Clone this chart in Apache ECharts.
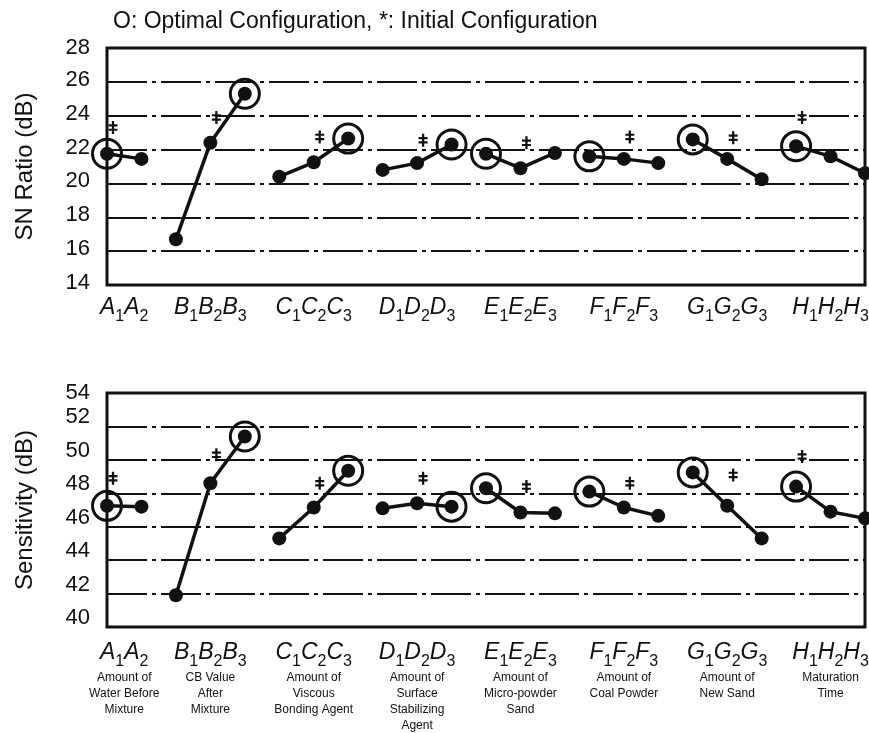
<!DOCTYPE html>
<html>
<head>
<meta charset="utf-8">
<script src="https://cdn.jsdelivr.net/npm/echarts@6/dist/echarts.min.js"></script>
<style>html,body{margin:0;padding:0;background:#fff}#c{width:869px;height:733px}</style>
</head>
<body>
<div id="c"></div>
<script>
// ---- data ----
const factors = ['A', 'B', 'C', 'D', 'E', 'F', 'G', 'H'];
const levelsPerFactor = [2, 3, 3, 3, 3, 3, 3, 3];
const snRatio = [21.75, 21.45, 16.7, 22.4, 25.3, 20.4, 21.25, 22.65, 20.8, 21.2, 22.3, 21.75, 20.9, 21.8, 21.6, 21.45, 21.2, 22.6, 21.45, 20.25, 22.2, 21.6, 20.6];
const sensitivity = [47.25, 47.2, 41.9, 48.6, 51.4, 45.3, 47.15, 49.35, 47.1, 47.4, 47.2, 48.3, 46.85, 46.8, 48.1, 47.15, 46.65, 49.25, 47.25, 45.3, 48.4, 46.9, 46.5];
const optimalLevel = [1, 3, 3, 3, 1, 1, 1, 1];
const initialLevel = [1, 2, 2, 2, 2, 2, 2, 1];
const snInitialMark = [23.3, 23.9, 22.75, 22.55, 22.4, 22.75, 22.7, 23.9];
const sensInitialMark = [48.9, 50.3, 48.6, 48.9, 48.4, 48.6, 49.1, 50.2];
const factorDescriptions = [
  ['Amount of', 'Water Before', 'Mixture'],
  ['CB Value', 'After', 'Mixture'],
  ['Amount of', 'Viscous', 'Bonding Agent'],
  ['Amount of', 'Surface', 'Stabilizing', 'Agent'],
  ['Amount of', 'Micro-powder', 'Sand'],
  ['Amount of', 'Coal Powder'],
  ['Amount of', 'New Sand'],
  ['Maturation', 'Time']
];
const snAxis = {min: 14, max: 28, interval: 2};
const sensAxis = {min: 40, max: 54, interval: 2};
const titleText = 'O: Optimal Configuration, *: Initial Configuration';

// ---- derived ----
const starts = [];
let acc = 0;
levelsPerFactor.forEach(n => { starts.push(acc); acc += n; });
const lastIndex = acc - 1;
const centers = factors.map((f, i) => starts[i] + (levelsPerFactor[i] - 1) / 2);

const INK = '#111';
const FONT = 'Liberation Sans, Arial, Helvetica, sans-serif';
const starPath = 'path://M3,0 h2 v3 h3 v2 h-3 v2 h3 v2 h-3 v3 h-2 v-3 h-3 v-2 h3 v-2 h-3 v-2 h3 z';

function groupLabel(fi, withDesc) {
  let s = '';
  for (let l = 1; l <= levelsPerFactor[fi]; l++) s += '{it|' + factors[fi] + '}{sub|' + l + '}';
  if (withDesc) s += '\n' + factorDescriptions[fi].map(t => '{d|' + t + '}').join('\n');
  return s;
}
function findFactor(v) {
  let best = 0;
  centers.forEach((c, i) => { if (Math.abs(c - v) < Math.abs(centers[best] - v)) best = i; });
  return best;
}
const rich = {
  it: {fontFamily: FONT, fontStyle: 'italic', fontSize: 23, lineHeight: 34, color: INK, align: 'center'},
  sub: {fontFamily: FONT, fontSize: 16, lineHeight: 31, verticalAlign: 'bottom', color: INK, align: 'center'},
  d: {fontFamily: FONT, fontSize: 12, lineHeight: 16, color: INK, align: 'center'}
};

function makeSeries(values, marks, gi) {
  const out = [];
  factors.forEach((f, fi) => {
    const pts = [];
    for (let l = 0; l < levelsPerFactor[fi]; l++) {
      const idx = starts[fi] + l;
      pts.push([idx, values[idx]]);
    }
    out.push({
      type: 'line', xAxisIndex: gi, yAxisIndex: gi, data: pts, clip: false,
      symbol: 'circle', symbolSize: 14, itemStyle: {color: INK, opacity: 1},
      lineStyle: {color: INK, width: 3.5}, z: 3, animation: false
    });
  });
  out.push({
    type: 'scatter', xAxisIndex: gi, yAxisIndex: gi, clip: false, animation: false,
    data: factors.map((f, fi) => { const idx = starts[fi] + optimalLevel[fi] - 1; return [idx, values[idx]]; }),
    symbol: 'circle', symbolSize: 29, z: 4,
    itemStyle: {color: 'rgba(0,0,0,0)', borderColor: INK, borderWidth: 3, opacity: 1}
  });
  out.push({
    type: 'scatter', xAxisIndex: gi, yAxisIndex: gi, clip: false, animation: false,
    data: factors.map((f, fi) => [starts[fi] + initialLevel[fi] - 1, marks[fi]]),
    symbol: starPath, symbolSize: [9, 13], symbolOffset: [6, 0], z: 4,
    itemStyle: {color: INK, opacity: 1}
  });
  return out;
}

function yAxisOf(gi, ax, name, shift) {
  return {
    type: 'value', gridIndex: gi, min: ax.min, max: ax.max, interval: ax.interval,
    name: name, nameLocation: 'middle', nameRotate: 90, nameGap: 70,
    nameTextStyle: {fontFamily: FONT, fontSize: 24, color: INK},
    axisLine: {show: false}, axisTick: {show: false},
    axisLabel: {
      margin: 17,
      formatter: v => (v === ax.max ? '{top|' + v + '}' : '{n|' + v + '}'),
      rich: {
        top: {fontFamily: FONT, fontSize: 22, color: INK},
        n: {fontFamily: FONT, fontSize: 22, color: INK, padding: [0, 0, shift, 0]}
      }
    },
    splitLine: {show: true, lineStyle: {color: INK, width: 2.2, type: [40, 5, 4, 5]}}
  };
}
function xAxisOf(gi, withDesc, margin) {
  return {
    type: 'value', gridIndex: gi, min: 0, max: lastIndex,
    axisLine: {show: false}, axisTick: {show: false}, splitLine: {show: false},
    axisLabel: {
      customValues: centers, margin: margin, verticalAlign: 'top',
      formatter: v => groupLabel(findFactor(v), withDesc), rich: rich
    }
  };
}

const chart = echarts.init(document.getElementById('c'), null, {renderer: 'canvas'});
chart.setOption({
  backgroundColor: '#fff',
  animation: false,
  title: {text: titleText, left: 108, top: 5,
    textStyle: {fontFamily: FONT, fontSize: 23, fontWeight: 'normal', color: INK}},
  grid: [
    {left: 107, right: 4, top: 48, height: 237, show: true, borderColor: INK, borderWidth: 3, backgroundColor: '#fff', containLabel: false, outerBoundsMode: 'none'},
    {left: 107, right: 4, top: 393, height: 234, show: true, borderColor: INK, borderWidth: 3, backgroundColor: '#fff', containLabel: false, outerBoundsMode: 'none'}
  ],
  xAxis: [xAxisOf(0, false, 6), xAxisOf(1, true, 9)],
  yAxis: [yAxisOf(0, snAxis, 'SN Ratio (dB)', 4), yAxisOf(1, sensAxis, 'Sensitivity (dB)', 18)],
  series: makeSeries(snRatio, snInitialMark, 0).concat(makeSeries(sensitivity, sensInitialMark, 1))
});
</script>
</body>
</html>
